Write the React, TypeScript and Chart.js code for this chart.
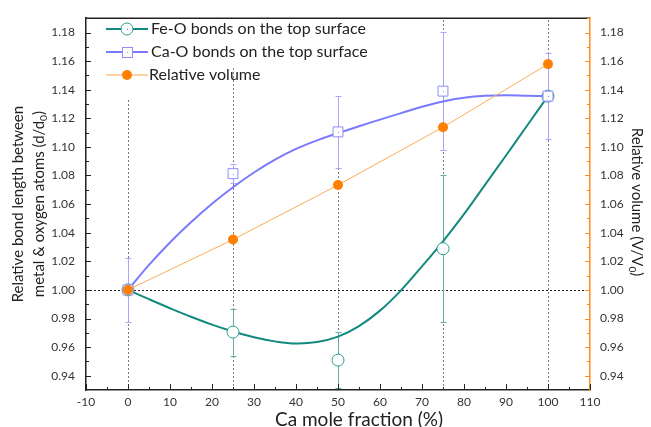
import React, { useEffect, useRef } from "react";
import { Chart, registerables } from "chart.js";
Chart.register(...registerables);

const FONT = "Lato, 'DejaVu Sans', sans-serif";

// Ca mole fraction (%) of the computed structures
const fractions = [0, 25, 50, 75, 100];
// Fe-O bonds on the top surface
const feO = [1.0, 0.9705, 0.9509, 1.0288, 1.1355];
const feOErr = [0, 0.0164, 0.0195, 0.0514, 0];
// Ca-O bonds on the top surface
const caO = [1.0, 1.0813, 1.1105, 1.139, 1.1355];
const caOErr = [0.0222, 0.0068, 0.0252, 0.0412, 0.03];
// Relative volume
const relVolume = [1.0, 1.0352, 1.0733, 1.1138, 1.1579];

// fitted curves
const fitX = [0, 5, 10, 15, 20, 25, 30, 35, 40, 45, 50, 55, 60, 65, 70, 75, 80, 85, 90, 95, 100];
const feOFit = [1.0, 0.9935, 0.9872, 0.9812, 0.9757, 0.9709, 0.9669, 0.964, 0.9625, 0.9635, 0.9673, 0.9747, 0.9855, 0.9997, 1.0165, 1.034, 1.053, 1.0735, 1.094, 1.1148, 1.1355];
const caOFit = [1.0, 1.0175, 1.0332, 1.0473, 1.0602, 1.0718, 1.0821, 1.0911, 1.0986, 1.1046, 1.1096, 1.1144, 1.1191, 1.1236, 1.1281, 1.1318, 1.1344, 1.1358, 1.1362, 1.1358, 1.1355];

// vertical dotted reference lines and their upper ends (value units)
const refLineX = [0, 25, 50, 75, 100];
const refLineTop = [1.134, 1.155, 1.11, 1.19, 1.19];
const refLineY = 1.0;

const xTicks = [-10, 0, 10, 20, 30, 40, 50, 60, 70, 80, 90, 100, 110];
const yTicks = [0.94, 0.96, 0.98, 1.0, 1.02, 1.04, 1.06, 1.08, 1.1, 1.12, 1.14, 1.16, 1.18];

const legendLabels = ["Fe-O bonds on the top surface", "Ca-O bonds on the top surface", "Relative volume"];

const TEAL = "#138A80";
const TEAL_MARK = "#2E9C92";
const TEAL_ERR = "#5FAEA7";
const BLUE = "#7A7AFF";
const BLUE_MARK = "#8E8EFF";
const BLUE_ERR = "#A8A8FF";
const ORANGE = "#FF7F00";
const ORANGE_LINE = "#FFAA55";
const ORANGE_AXIS = "#FF8C1A";

const pts = (xs: number[], ys: number[]) => xs.map((x, i) => ({ x, y: ys[i] }));

function minorTicks(ticks: number[], min: number, max: number) {
  const out: number[] = [];
  const step = ticks[1] - ticks[0];
  const first = ticks[0] - step / 2;
  if (first >= min) out.push(first);
  for (let i = 0; i < ticks.length - 1; i++) out.push((ticks[i] + ticks[i + 1]) / 2);
  const last = ticks[ticks.length - 1] + step / 2;
  if (last <= max) out.push(last);
  return out;
}

function drawSubText(ctx: CanvasRenderingContext2D, parts: [string, boolean][], size: number) {
  const sub = size * 0.68;
  let total = 0;
  for (const [t, s] of parts) {
    ctx.font = `${s ? sub : size}px ${FONT}`;
    total += ctx.measureText(t).width;
  }
  let x = -total / 2;
  for (const [t, s] of parts) {
    ctx.font = `${s ? sub : size}px ${FONT}`;
    ctx.textAlign = "left";
    ctx.textBaseline = "middle";
    ctx.fillText(t, x, s ? size * 0.3 : 0);
    x += ctx.measureText(t).width;
  }
}

const customPlugin = {
  id: "custom",
  beforeDatasetsDraw(chart: any) {
    const ctx = chart.ctx as CanvasRenderingContext2D;
    const xs = chart.scales.x;
    const ys = chart.scales.y;
    const area = chart.chartArea;
    ctx.save();
    ctx.beginPath();
    ctx.rect(area.left, area.top, area.right - area.left, area.bottom - area.top);
    ctx.clip();
    ctx.setLineDash([2, 2]);
    ctx.lineWidth = 1;
    ctx.strokeStyle = "#7a7a7a";
    refLineX.forEach((v, i) => {
      const px = Math.round(xs.getPixelForValue(v)) + 0.5;
      ctx.beginPath();
      ctx.moveTo(px, area.bottom);
      ctx.lineTo(px, ys.getPixelForValue(refLineTop[i]));
      ctx.stroke();
    });
    ctx.strokeStyle = "#222";
    const py = Math.round(ys.getPixelForValue(refLineY)) + 0.5;
    ctx.beginPath();
    ctx.moveTo(area.left, py);
    ctx.lineTo(area.right, py);
    ctx.stroke();
    ctx.setLineDash([]);
    const errBars = (vals: number[], errs: number[], color: string) => {
      ctx.strokeStyle = color;
      ctx.lineWidth = 1;
      fractions.forEach((f, i) => {
        if (!errs[i]) return;
        const px = Math.round(xs.getPixelForValue(f)) + 0.5;
        const top = ys.getPixelForValue(vals[i] + errs[i]);
        const bot = ys.getPixelForValue(vals[i] - errs[i]);
        ctx.beginPath();
        ctx.moveTo(px, top);
        ctx.lineTo(px, bot);
        ctx.moveTo(px - 3, Math.round(top) + 0.5);
        ctx.lineTo(px + 3, Math.round(top) + 0.5);
        ctx.moveTo(px - 3, Math.round(bot) + 0.5);
        ctx.lineTo(px + 3, Math.round(bot) + 0.5);
        ctx.stroke();
      });
    };
    errBars(feO, feOErr, TEAL_ERR);
    errBars(caO, caOErr, BLUE_ERR);
    ctx.restore();
  },
  afterDatasetsDraw(chart: any) {
    const ctx = chart.ctx as CanvasRenderingContext2D;
    const xs = chart.scales.x;
    const ys = chart.scales.y;
    ctx.save();
    const dots = (vals: number[], color: string) => {
      ctx.fillStyle = color;
      fractions.forEach((f, i) => {
        const px = Math.round(xs.getPixelForValue(f));
        const py = Math.round(ys.getPixelForValue(vals[i]));
        ctx.fillRect(px, py, 1, 1);
      });
    };
    dots(feO.slice(1), TEAL_MARK);
    ctx.restore();
  },
  afterDraw(chart: any) {
    const ctx = chart.ctx as CanvasRenderingContext2D;
    const xs = chart.scales.x;
    const ys = chart.scales.y;
    const area = chart.chartArea;
    ctx.save();
    ctx.strokeStyle = "#222";
    ctx.lineWidth = 1.5;
    ctx.beginPath();
    ctx.moveTo(area.left, area.top);
    ctx.lineTo(area.right, area.top);
    ctx.stroke();
    ctx.lineWidth = 1;
    const yMinor = minorTicks(yTicks, ys.min, ys.max);
    const xMinor = minorTicks(xTicks, xs.min, xs.max);
    ctx.strokeStyle = "#222";
    ctx.beginPath();
    yTicks.forEach((v) => {
      const p = Math.round(ys.getPixelForValue(v)) + 0.5;
      ctx.moveTo(area.left, p);
      ctx.lineTo(area.left + 5, p);
    });
    yMinor.forEach((v) => {
      const p = Math.round(ys.getPixelForValue(v)) + 0.5;
      ctx.moveTo(area.left, p);
      ctx.lineTo(area.left + 3, p);
    });
    xTicks.forEach((v) => {
      const p = Math.round(xs.getPixelForValue(v)) + 0.5;
      ctx.moveTo(p, area.bottom);
      ctx.lineTo(p, area.bottom - 6);
    });
    xMinor.forEach((v) => {
      const p = Math.round(xs.getPixelForValue(v)) + 0.5;
      ctx.moveTo(p, area.bottom);
      ctx.lineTo(p, area.bottom - 3);
    });
    ctx.stroke();
    ctx.strokeStyle = ORANGE_AXIS;
    ctx.beginPath();
    yTicks.forEach((v) => {
      const p = Math.round(ys.getPixelForValue(v)) + 0.5;
      ctx.moveTo(area.right, p);
      ctx.lineTo(area.right - 5, p);
    });
    yMinor.forEach((v) => {
      const p = Math.round(ys.getPixelForValue(v)) + 0.5;
      ctx.moveTo(area.right, p);
      ctx.lineTo(area.right - 3, p);
    });
    ctx.stroke();

    // point centre dots for open markers
    ctx.fillStyle = BLUE_MARK;
    fractions.forEach((f, i) => {
      if (i === 0) return;
      ctx.fillRect(Math.round(xs.getPixelForValue(f)), Math.round(ys.getPixelForValue(caO[i])), 1, 1);
    });

    // legend
    const rows = [29, 52, 75];
    const x0 = 106, x1 = 148, xm = 127;
    ctx.strokeStyle = TEAL;
    ctx.lineWidth = 2;
    ctx.beginPath();
    ctx.moveTo(x0, rows[0]);
    ctx.lineTo(x1, rows[0]);
    ctx.stroke();
    ctx.fillStyle = "#fff";
    ctx.strokeStyle = TEAL_MARK;
    ctx.lineWidth = 1;
    ctx.beginPath();
    ctx.arc(xm, rows[0], 6, 0, Math.PI * 2);
    ctx.fill();
    ctx.stroke();
    ctx.fillStyle = TEAL_MARK;
    ctx.fillRect(xm, rows[0], 1, 1);
    ctx.strokeStyle = BLUE;
    ctx.lineWidth = 2;
    ctx.beginPath();
    ctx.moveTo(x0, rows[1]);
    ctx.lineTo(x1, rows[1]);
    ctx.stroke();
    ctx.fillStyle = "#fff";
    ctx.strokeStyle = BLUE_MARK;
    ctx.lineWidth = 1;
    ctx.fillRect(xm - 5, rows[1] - 5, 10, 10);
    ctx.strokeRect(xm - 5 + 0.5, rows[1] - 5 + 0.5, 10, 10);
    ctx.fillStyle = BLUE_MARK;
    ctx.fillRect(xm, rows[1], 1, 1);
    ctx.strokeStyle = "#FFC48A";
    ctx.lineWidth = 1.5;
    ctx.beginPath();
    ctx.moveTo(x0, rows[2]);
    ctx.lineTo(x1, rows[2]);
    ctx.stroke();
    ctx.fillStyle = ORANGE;
    ctx.beginPath();
    ctx.arc(xm, rows[2], 5, 0, Math.PI * 2);
    ctx.fill();
    ctx.font = `16px ${FONT}`;
    ctx.fillStyle = "#222";
    ctx.textBaseline = "middle";
    ctx.textAlign = "left";
    ctx.fillText(legendLabels[0], 151, rows[0]);
    ctx.fillText(legendLabels[1], 151, rows[1]);
    ctx.fillText(legendLabels[2], 149, rows[2]);

    // axis titles
    ctx.fillStyle = "#222";
    ctx.font = `19px ${FONT}`;
    ctx.textAlign = "center";
    ctx.textBaseline = "middle";
    ctx.fillText("Ca mole fraction (%)", 359, 420);

    const cy = (area.top + area.bottom) / 2;
    ctx.save();
    ctx.translate(18, cy);
    ctx.rotate(-Math.PI / 2);
    ctx.font = `15px ${FONT}`;
    ctx.textAlign = "center";
    ctx.fillText("Relative bond length between", 0, 0);
    ctx.restore();
    ctx.save();
    ctx.translate(39, cy);
    ctx.rotate(-Math.PI / 2);
    drawSubText(ctx, [["metal & oxygen atoms (d/d", false], ["0", true], [")", false]], 15);
    ctx.restore();
    ctx.save();
    ctx.translate(637, cy - 2);
    ctx.rotate(Math.PI / 2);
    drawSubText(ctx, [["Relative volume (V/V", false], ["0", true], [")", false]], 15);
    ctx.restore();
    ctx.restore();
  },
};

export default function App() {
  const ref = useRef<HTMLCanvasElement>(null);
  useEffect(() => {
    if (!ref.current) return;
    const tickFont = { family: FONT, size: 12 };
    const chart = new Chart(ref.current, {
      type: "scatter",
      data: {
        datasets: [
          {
            label: legendLabels[2],
            data: pts(fractions, relVolume),
            showLine: true,
            borderColor: ORANGE_LINE,
            borderWidth: 1,
            pointRadius: 5,
            pointBackgroundColor: ORANGE,
            pointBorderColor: ORANGE,
            pointBorderWidth: 0,
            order: 0,
          },
          {
            label: legendLabels[1],
            data: pts(fractions, caO),
            showLine: false,
            pointStyle: "rect",
            pointRadius: 7,
            pointBackgroundColor: "#fff",
            pointBorderColor: BLUE_MARK,
            pointBorderWidth: 1,
            order: 1,
          },
          {
            label: legendLabels[0],
            data: pts(fractions, feO),
            showLine: false,
            pointStyle: "circle",
            pointRadius: 6,
            pointBackgroundColor: "#fff",
            pointBorderColor: TEAL_MARK,
            pointBorderWidth: 1,
            order: 2,
          },
          {
            label: "Ca-O fit",
            data: pts(fitX, caOFit),
            showLine: true,
            borderColor: BLUE,
            borderWidth: 2,
            pointRadius: 0,
            tension: 0.4,
            order: 3,
          },
          {
            label: "Fe-O fit",
            data: pts(fitX, feOFit),
            showLine: true,
            borderColor: TEAL,
            borderWidth: 2,
            pointRadius: 0,
            tension: 0.4,
            order: 4,
          },
        ],
      } as any,
      options: {
        animation: false,
        responsive: true,
        maintainAspectRatio: false,
        events: [],
        layout: { padding: { top: 13, left: 0, right: 0, bottom: 0 } },
        plugins: { legend: { display: false }, tooltip: { enabled: false } },
        scales: {
          x: {
            type: "linear",
            min: -10,
            max: 110,
            afterBuildTicks: (s: any) => {
              s.ticks = xTicks.map((v) => ({ value: v }));
            },
            afterFit: (s: any) => {
              s.height = 37;
            },
            ticks: { font: tickFont, color: "#333", padding: 5, callback: (v: any) => String(v), autoSkip: false, maxRotation: 0 },
            grid: { display: false, drawTicks: false },
            border: { display: true, color: "#222", width: 1.5 },
          },
          y: {
            type: "linear",
            position: "left",
            min: 0.93,
            max: 1.19,
            afterBuildTicks: (s: any) => {
              s.ticks = yTicks.map((v) => ({ value: v }));
            },
            afterFit: (s: any) => {
              s.width = 86;
            },
            ticks: { font: tickFont, color: "#333", padding: 11, callback: (v: any) => Number(v).toFixed(2), autoSkip: false },
            grid: { display: false, drawTicks: false },
            border: { display: true, color: "#222", width: 1.5 },
          },
          y2: {
            type: "linear",
            position: "right",
            min: 0.93,
            max: 1.19,
            afterBuildTicks: (s: any) => {
              s.ticks = yTicks.map((v) => ({ value: v }));
            },
            afterFit: (s: any) => {
              s.width = 61;
            },
            ticks: { font: tickFont, color: "#333", padding: 10, callback: (v: any) => Number(v).toFixed(2), autoSkip: false },
            grid: { display: false, drawTicks: false },
            border: { display: true, color: ORANGE_AXIS, width: 1.5 },
          },
        },
      } as any,
      plugins: [customPlugin],
    });
    return () => chart.destroy();
  }, []);
  return (
    <div style={{ position: "fixed", left: 0, top: 0, width: 651, height: 427, background: "#fff" }}>
      <canvas ref={ref} style={{ display: "block" }} />
    </div>
  );
}
